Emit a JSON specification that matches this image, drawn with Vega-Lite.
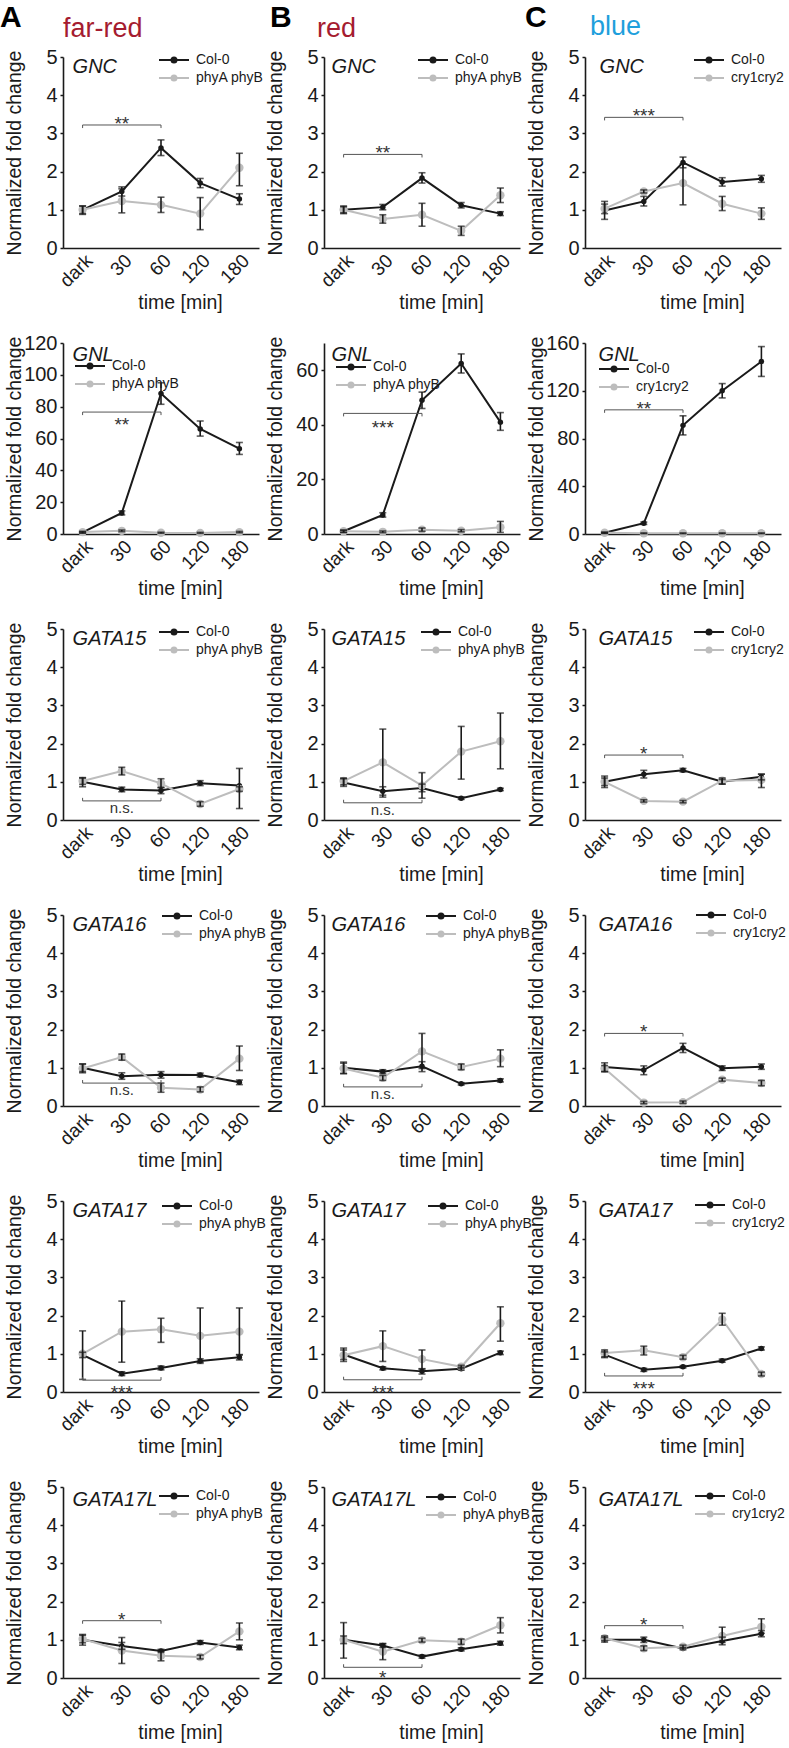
{
"$schema":"https://vega.github.io/schema/vega-lite/v6.json",
"padding":{"left":0,"top":3,"right":2,"bottom":2},
"background":"white",
"datasets":{"d":[
{"p":"A1","g":"Col-0","t":"dark","m":1.0,"lo":0.88,"hi":1.1},{"p":"A1","g":"Col-0","t":"30","m":1.48,"lo":1.36,"hi":1.6},{"p":"A1","g":"Col-0","t":"60","m":2.62,"lo":2.42,"hi":2.83},{"p":"A1","g":"Col-0","t":"120","m":1.7,"lo":1.58,"hi":1.82},{"p":"A1","g":"Col-0","t":"180","m":1.28,"lo":1.14,"hi":1.42},
{"p":"A1","g":"phyA phyB","t":"dark","m":1.0,"lo":0.9,"hi":1.1},{"p":"A1","g":"phyA phyB","t":"30","m":1.23,"lo":0.92,"hi":1.55},{"p":"A1","g":"phyA phyB","t":"60","m":1.13,"lo":0.93,"hi":1.33},{"p":"A1","g":"phyA phyB","t":"120","m":0.9,"lo":0.48,"hi":1.32},{"p":"A1","g":"phyA phyB","t":"180","m":2.1,"lo":1.63,"hi":2.48},
{"p":"B1","g":"Col-0","t":"dark","m":1.0,"lo":0.9,"hi":1.1},{"p":"B1","g":"Col-0","t":"30","m":1.07,"lo":1.0,"hi":1.14},{"p":"B1","g":"Col-0","t":"60","m":1.83,"lo":1.7,"hi":1.97},{"p":"B1","g":"Col-0","t":"120","m":1.12,"lo":1.05,"hi":1.19},{"p":"B1","g":"Col-0","t":"180","m":0.9,"lo":0.85,"hi":0.95},
{"p":"B1","g":"phyA phyB","t":"dark","m":1.0,"lo":0.92,"hi":1.08},{"p":"B1","g":"phyA phyB","t":"30","m":0.76,"lo":0.65,"hi":0.87},{"p":"B1","g":"phyA phyB","t":"60","m":0.87,"lo":0.57,"hi":1.17},{"p":"B1","g":"phyA phyB","t":"120","m":0.45,"lo":0.33,"hi":0.57},{"p":"B1","g":"phyA phyB","t":"180","m":1.38,"lo":1.19,"hi":1.57},
{"p":"C1","g":"Col-0","t":"dark","m":0.98,"lo":0.75,"hi":1.22},{"p":"C1","g":"Col-0","t":"30","m":1.22,"lo":1.1,"hi":1.35},{"p":"C1","g":"Col-0","t":"60","m":2.24,"lo":2.1,"hi":2.38},{"p":"C1","g":"Col-0","t":"120","m":1.73,"lo":1.62,"hi":1.84},{"p":"C1","g":"Col-0","t":"180","m":1.81,"lo":1.72,"hi":1.9},
{"p":"C1","g":"cry1cry2","t":"dark","m":1.03,"lo":0.9,"hi":1.15},{"p":"C1","g":"cry1cry2","t":"30","m":1.48,"lo":1.44,"hi":1.52},{"p":"C1","g":"cry1cry2","t":"60","m":1.7,"lo":1.13,"hi":2.2},{"p":"C1","g":"cry1cry2","t":"120","m":1.16,"lo":0.98,"hi":1.35},{"p":"C1","g":"cry1cry2","t":"180","m":0.9,"lo":0.75,"hi":1.05},
{"p":"A2","g":"Col-0","t":"dark","m":1,"lo":0.5,"hi":1.5},{"p":"A2","g":"Col-0","t":"30","m":13.2,"lo":12,"hi":14.5},{"p":"A2","g":"Col-0","t":"60","m":88.3,"lo":81.5,"hi":95},{"p":"A2","g":"Col-0","t":"120","m":66,"lo":61.5,"hi":71},{"p":"A2","g":"Col-0","t":"180","m":53.6,"lo":50,"hi":57.5},
{"p":"A2","g":"phyA phyB","t":"dark","m":1.2,"lo":0.8,"hi":1.6},{"p":"A2","g":"phyA phyB","t":"30","m":2,"lo":1.5,"hi":2.5},{"p":"A2","g":"phyA phyB","t":"60","m":0.8,"lo":0.5,"hi":1.1},{"p":"A2","g":"phyA phyB","t":"120","m":0.7,"lo":0.4,"hi":1},{"p":"A2","g":"phyA phyB","t":"180","m":1.2,"lo":0.8,"hi":1.6},
{"p":"B2","g":"Col-0","t":"dark","m":1,"lo":0.6,"hi":1.4},{"p":"B2","g":"Col-0","t":"30","m":7,"lo":6.2,"hi":7.8},{"p":"B2","g":"Col-0","t":"60","m":49,"lo":46,"hi":52},{"p":"B2","g":"Col-0","t":"120","m":62.5,"lo":59,"hi":66},{"p":"B2","g":"Col-0","t":"180","m":41,"lo":38,"hi":44.5},
{"p":"B2","g":"phyA phyB","t":"dark","m":1,"lo":0.6,"hi":1.4},{"p":"B2","g":"phyA phyB","t":"30","m":0.8,"lo":0.5,"hi":1.1},{"p":"B2","g":"phyA phyB","t":"60","m":1.6,"lo":1,"hi":2.2},{"p":"B2","g":"phyA phyB","t":"120","m":1.2,"lo":0.8,"hi":1.6},{"p":"B2","g":"phyA phyB","t":"180","m":2.5,"lo":0.6,"hi":4.6},
{"p":"C2","g":"Col-0","t":"dark","m":1,"lo":0.5,"hi":1.5},{"p":"C2","g":"Col-0","t":"30","m":9,"lo":8,"hi":10},{"p":"C2","g":"Col-0","t":"60","m":91,"lo":83,"hi":99},{"p":"C2","g":"Col-0","t":"120","m":120,"lo":114,"hi":126},{"p":"C2","g":"Col-0","t":"180","m":144.5,"lo":132,"hi":157},
{"p":"C2","g":"cry1cry2","t":"dark","m":1,"lo":0.6,"hi":1.4},{"p":"C2","g":"cry1cry2","t":"30","m":0.6,"lo":0.3,"hi":0.9},{"p":"C2","g":"cry1cry2","t":"60","m":0.6,"lo":0.3,"hi":0.9},{"p":"C2","g":"cry1cry2","t":"120","m":0.6,"lo":0.3,"hi":0.9},{"p":"C2","g":"cry1cry2","t":"180","m":0.6,"lo":0.3,"hi":0.9},
{"p":"A3","g":"Col-0","t":"dark","m":1.0,"lo":0.87,"hi":1.1},{"p":"A3","g":"Col-0","t":"30","m":0.8,"lo":0.74,"hi":0.86},{"p":"A3","g":"Col-0","t":"60","m":0.77,"lo":0.69,"hi":0.85},{"p":"A3","g":"Col-0","t":"120","m":0.96,"lo":0.9,"hi":1.03},{"p":"A3","g":"Col-0","t":"180","m":0.9,"lo":0.3,"hi":1.35},
{"p":"A3","g":"phyA phyB","t":"dark","m":1.02,"lo":0.93,"hi":1.11},{"p":"A3","g":"phyA phyB","t":"30","m":1.28,"lo":1.18,"hi":1.38},{"p":"A3","g":"phyA phyB","t":"60","m":0.96,"lo":0.85,"hi":1.08},{"p":"A3","g":"phyA phyB","t":"120","m":0.42,"lo":0.36,"hi":0.48},{"p":"A3","g":"phyA phyB","t":"180","m":0.81,"lo":0.75,"hi":0.87},
{"p":"B3","g":"Col-0","t":"dark","m":0.98,"lo":0.88,"hi":1.08},{"p":"B3","g":"Col-0","t":"30","m":0.75,"lo":0.6,"hi":0.87},{"p":"B3","g":"Col-0","t":"60","m":0.84,"lo":0.74,"hi":0.94},{"p":"B3","g":"Col-0","t":"120","m":0.57,"lo":0.54,"hi":0.6},{"p":"B3","g":"Col-0","t":"180","m":0.8,"lo":0.77,"hi":0.83},
{"p":"B3","g":"phyA phyB","t":"dark","m":1.02,"lo":0.92,"hi":1.1},{"p":"B3","g":"phyA phyB","t":"30","m":1.51,"lo":0.65,"hi":2.38},{"p":"B3","g":"phyA phyB","t":"60","m":0.9,"lo":0.57,"hi":1.24},{"p":"B3","g":"phyA phyB","t":"120","m":1.79,"lo":1.07,"hi":2.45},{"p":"B3","g":"phyA phyB","t":"180","m":2.06,"lo":1.34,"hi":2.8},
{"p":"C3","g":"Col-0","t":"dark","m":1.0,"lo":0.85,"hi":1.15},{"p":"C3","g":"Col-0","t":"30","m":1.2,"lo":1.1,"hi":1.3},{"p":"C3","g":"Col-0","t":"60","m":1.3,"lo":1.26,"hi":1.35},{"p":"C3","g":"Col-0","t":"120","m":1.0,"lo":0.94,"hi":1.06},{"p":"C3","g":"Col-0","t":"180","m":1.13,"lo":1.05,"hi":1.2},
{"p":"C3","g":"cry1cry2","t":"dark","m":1.0,"lo":0.9,"hi":1.1},{"p":"C3","g":"cry1cry2","t":"30","m":0.5,"lo":0.47,"hi":0.53},{"p":"C3","g":"cry1cry2","t":"60","m":0.48,"lo":0.45,"hi":0.51},{"p":"C3","g":"cry1cry2","t":"120","m":1.03,"lo":0.94,"hi":1.1},{"p":"C3","g":"cry1cry2","t":"180","m":1.05,"lo":0.85,"hi":1.2},
{"p":"A4","g":"Col-0","t":"dark","m":1.0,"lo":0.9,"hi":1.1},{"p":"A4","g":"Col-0","t":"30","m":0.78,"lo":0.7,"hi":0.87},{"p":"A4","g":"Col-0","t":"60","m":0.82,"lo":0.73,"hi":0.9},{"p":"A4","g":"Col-0","t":"120","m":0.81,"lo":0.76,"hi":0.86},{"p":"A4","g":"Col-0","t":"180","m":0.62,"lo":0.56,"hi":0.68},
{"p":"A4","g":"phyA phyB","t":"dark","m":0.98,"lo":0.87,"hi":1.1},{"p":"A4","g":"phyA phyB","t":"30","m":1.28,"lo":1.2,"hi":1.36},{"p":"A4","g":"phyA phyB","t":"60","m":0.48,"lo":0.36,"hi":0.6},{"p":"A4","g":"phyA phyB","t":"120","m":0.43,"lo":0.37,"hi":0.5},{"p":"A4","g":"phyA phyB","t":"180","m":1.24,"lo":0.93,"hi":1.57},
{"p":"B4","g":"Col-0","t":"dark","m":1.0,"lo":0.85,"hi":1.15},{"p":"B4","g":"Col-0","t":"30","m":0.9,"lo":0.85,"hi":0.95},{"p":"B4","g":"Col-0","t":"60","m":1.04,"lo":0.9,"hi":1.16},{"p":"B4","g":"Col-0","t":"120","m":0.58,"lo":0.55,"hi":0.61},{"p":"B4","g":"Col-0","t":"180","m":0.67,"lo":0.63,"hi":0.71},
{"p":"B4","g":"phyA phyB","t":"dark","m":0.98,"lo":0.85,"hi":1.12},{"p":"B4","g":"phyA phyB","t":"30","m":0.74,"lo":0.67,"hi":0.8},{"p":"B4","g":"phyA phyB","t":"60","m":1.43,"lo":0.98,"hi":1.9},{"p":"B4","g":"phyA phyB","t":"120","m":1.02,"lo":0.95,"hi":1.1},{"p":"B4","g":"phyA phyB","t":"180","m":1.24,"lo":1.03,"hi":1.47},
{"p":"C4","g":"Col-0","t":"dark","m":1.02,"lo":0.9,"hi":1.13},{"p":"C4","g":"Col-0","t":"30","m":0.94,"lo":0.82,"hi":1.05},{"p":"C4","g":"Col-0","t":"60","m":1.52,"lo":1.4,"hi":1.64},{"p":"C4","g":"Col-0","t":"120","m":0.99,"lo":0.93,"hi":1.05},{"p":"C4","g":"Col-0","t":"180","m":1.03,"lo":0.96,"hi":1.1},
{"p":"C4","g":"cry1cry2","t":"dark","m":0.98,"lo":0.9,"hi":1.06},{"p":"C4","g":"cry1cry2","t":"30","m":0.09,"lo":0.06,"hi":0.12},{"p":"C4","g":"cry1cry2","t":"60","m":0.1,"lo":0.07,"hi":0.13},{"p":"C4","g":"cry1cry2","t":"120","m":0.69,"lo":0.65,"hi":0.73},{"p":"C4","g":"cry1cry2","t":"180","m":0.6,"lo":0.53,"hi":0.67},
{"p":"A5","g":"Col-0","t":"dark","m":0.97,"lo":0.9,"hi":1.04},{"p":"A5","g":"Col-0","t":"30","m":0.48,"lo":0.43,"hi":0.53},{"p":"A5","g":"Col-0","t":"60","m":0.63,"lo":0.58,"hi":0.68},{"p":"A5","g":"Col-0","t":"120","m":0.81,"lo":0.75,"hi":0.87},{"p":"A5","g":"Col-0","t":"180","m":0.91,"lo":0.84,"hi":0.98},
{"p":"A5","g":"phyA phyB","t":"dark","m":1.0,"lo":0.33,"hi":1.6},{"p":"A5","g":"phyA phyB","t":"30","m":1.58,"lo":0.78,"hi":2.38},{"p":"A5","g":"phyA phyB","t":"60","m":1.64,"lo":1.3,"hi":1.93},{"p":"A5","g":"phyA phyB","t":"120","m":1.47,"lo":0.78,"hi":2.2},{"p":"A5","g":"phyA phyB","t":"180","m":1.58,"lo":0.97,"hi":2.2},
{"p":"B5","g":"Col-0","t":"dark","m":0.98,"lo":0.85,"hi":1.1},{"p":"B5","g":"Col-0","t":"30","m":0.62,"lo":0.58,"hi":0.66},{"p":"B5","g":"Col-0","t":"60","m":0.54,"lo":0.47,"hi":0.61},{"p":"B5","g":"Col-0","t":"120","m":0.61,"lo":0.57,"hi":0.65},{"p":"B5","g":"Col-0","t":"180","m":1.03,"lo":0.98,"hi":1.07},
{"p":"B5","g":"phyA phyB","t":"dark","m":0.96,"lo":0.8,"hi":1.15},{"p":"B5","g":"phyA phyB","t":"30","m":1.2,"lo":0.8,"hi":1.6},{"p":"B5","g":"phyA phyB","t":"60","m":0.86,"lo":0.6,"hi":1.1},{"p":"B5","g":"phyA phyB","t":"120","m":0.66,"lo":0.62,"hi":0.7},{"p":"B5","g":"phyA phyB","t":"180","m":1.8,"lo":1.33,"hi":2.23},
{"p":"C5","g":"Col-0","t":"dark","m":0.98,"lo":0.9,"hi":1.05},{"p":"C5","g":"Col-0","t":"30","m":0.58,"lo":0.54,"hi":0.62},{"p":"C5","g":"Col-0","t":"60","m":0.66,"lo":0.63,"hi":0.69},{"p":"C5","g":"Col-0","t":"120","m":0.82,"lo":0.78,"hi":0.86},{"p":"C5","g":"Col-0","t":"180","m":1.14,"lo":1.1,"hi":1.18},
{"p":"C5","g":"cry1cry2","t":"dark","m":1.02,"lo":0.92,"hi":1.1},{"p":"C5","g":"cry1cry2","t":"30","m":1.09,"lo":0.97,"hi":1.2},{"p":"C5","g":"cry1cry2","t":"60","m":0.91,"lo":0.86,"hi":0.96},{"p":"C5","g":"cry1cry2","t":"120","m":1.9,"lo":1.75,"hi":2.06},{"p":"C5","g":"cry1cry2","t":"180","m":0.47,"lo":0.42,"hi":0.52},
{"p":"A6","g":"Col-0","t":"dark","m":1.0,"lo":0.86,"hi":1.14},{"p":"A6","g":"Col-0","t":"30","m":0.84,"lo":0.75,"hi":0.93},{"p":"A6","g":"Col-0","t":"60","m":0.71,"lo":0.67,"hi":0.75},{"p":"A6","g":"Col-0","t":"120","m":0.93,"lo":0.88,"hi":0.98},{"p":"A6","g":"Col-0","t":"180","m":0.8,"lo":0.74,"hi":0.86},
{"p":"A6","g":"phyA phyB","t":"dark","m":1.02,"lo":0.92,"hi":1.12},{"p":"A6","g":"phyA phyB","t":"30","m":0.72,"lo":0.38,"hi":1.06},{"p":"A6","g":"phyA phyB","t":"60","m":0.58,"lo":0.45,"hi":0.7},{"p":"A6","g":"phyA phyB","t":"120","m":0.55,"lo":0.5,"hi":0.6},{"p":"A6","g":"phyA phyB","t":"180","m":1.22,"lo":1.0,"hi":1.44},
{"p":"B6","g":"Col-0","t":"dark","m":1.0,"lo":0.9,"hi":1.1},{"p":"B6","g":"Col-0","t":"30","m":0.85,"lo":0.8,"hi":0.9},{"p":"B6","g":"Col-0","t":"60","m":0.56,"lo":0.52,"hi":0.6},{"p":"B6","g":"Col-0","t":"120","m":0.75,"lo":0.71,"hi":0.79},{"p":"B6","g":"Col-0","t":"180","m":0.91,"lo":0.86,"hi":0.96},
{"p":"B6","g":"phyA phyB","t":"dark","m":1.0,"lo":0.52,"hi":1.45},{"p":"B6","g":"phyA phyB","t":"30","m":0.69,"lo":0.48,"hi":0.9},{"p":"B6","g":"phyA phyB","t":"60","m":0.99,"lo":0.94,"hi":1.04},{"p":"B6","g":"phyA phyB","t":"120","m":0.95,"lo":0.88,"hi":1.02},{"p":"B6","g":"phyA phyB","t":"180","m":1.38,"lo":1.18,"hi":1.58},
{"p":"C6","g":"Col-0","t":"dark","m":1.0,"lo":0.94,"hi":1.06},{"p":"C6","g":"Col-0","t":"30","m":1.0,"lo":0.93,"hi":1.07},{"p":"C6","g":"Col-0","t":"60","m":0.77,"lo":0.74,"hi":0.8},{"p":"C6","g":"Col-0","t":"120","m":0.97,"lo":0.87,"hi":1.07},{"p":"C6","g":"Col-0","t":"180","m":1.16,"lo":1.08,"hi":1.24},
{"p":"C6","g":"cry1cry2","t":"dark","m":1.04,"lo":0.98,"hi":1.1},{"p":"C6","g":"cry1cry2","t":"30","m":0.78,"lo":0.72,"hi":0.84},{"p":"C6","g":"cry1cry2","t":"60","m":0.82,"lo":0.78,"hi":0.86},{"p":"C6","g":"cry1cry2","t":"120","m":1.1,"lo":0.93,"hi":1.33},{"p":"C6","g":"cry1cry2","t":"180","m":1.34,"lo":1.17,"hi":1.55},
{"p":"A1","k":"br","t":"dark","v":3.14,"o":1},{"p":"A1","k":"br","t":"dark","v":3.22,"o":2},{"p":"A1","k":"br","t":"60","v":3.22,"o":3},{"p":"A1","k":"br","t":"60","v":3.14,"o":4},{"p":"A1","k":"bl","t":"30","v":3.22,"s":"**"},{"p":"A1","k":"gn","t":"dark","v":5,"s":"GNC"},{"p":"A1","k":"hd","t":"dark","v":5,"s":"A"},{"p":"A1","k":"hc","t":"dark","v":5,"s":"far-red"},
{"p":"B1","k":"br","t":"dark","v":2.37,"o":1},{"p":"B1","k":"br","t":"dark","v":2.45,"o":2},{"p":"B1","k":"br","t":"60","v":2.45,"o":3},{"p":"B1","k":"br","t":"60","v":2.37,"o":4},{"p":"B1","k":"bl","t":"30","v":2.45,"s":"**"},{"p":"B1","k":"gn","t":"dark","v":5,"s":"GNC"},{"p":"B1","k":"hd","t":"dark","v":5,"s":"B"},{"p":"B1","k":"hc","t":"dark","v":5,"s":"red"},
{"p":"C1","k":"br","t":"dark","v":3.34,"o":1},{"p":"C1","k":"br","t":"dark","v":3.42,"o":2},{"p":"C1","k":"br","t":"60","v":3.42,"o":3},{"p":"C1","k":"br","t":"60","v":3.34,"o":4},{"p":"C1","k":"bl","t":"30","v":3.42,"s":"***"},{"p":"C1","k":"gn","t":"dark","v":5,"s":"GNC"},{"p":"C1","k":"hd","t":"dark","v":5,"s":"C"},{"p":"C1","k":"hc","t":"dark","v":5,"s":"blue"},
{"p":"A2","k":"br","t":"dark","v":74.7,"o":1},{"p":"A2","k":"br","t":"dark","v":76.6,"o":2},{"p":"A2","k":"br","t":"60","v":76.6,"o":3},{"p":"A2","k":"br","t":"60","v":74.7,"o":4},{"p":"A2","k":"bl","t":"30","v":76.6,"s":"**"},{"p":"A2","k":"gn","t":"dark","v":120,"s":"GNL"},
{"p":"B2","k":"br","t":"dark","v":43.1,"o":1},{"p":"B2","k":"br","t":"dark","v":44.2,"o":2},{"p":"B2","k":"br","t":"60","v":44.2,"o":3},{"p":"B2","k":"br","t":"60","v":43.1,"o":4},{"p":"B2","k":"bl","t":"30","v":44.2,"s":"***"},{"p":"B2","k":"gn","t":"dark","v":70,"s":"GNL"},
{"p":"C2","k":"br","t":"dark","v":101.5,"o":1},{"p":"C2","k":"br","t":"dark","v":104,"o":2},{"p":"C2","k":"br","t":"60","v":104,"o":3},{"p":"C2","k":"br","t":"60","v":101.5,"o":4},{"p":"C2","k":"bl","t":"30","v":104,"s":"**"},{"p":"C2","k":"gn","t":"dark","v":160,"s":"GNL"},
{"p":"A3","k":"br","t":"dark","v":0.58,"o":1},{"p":"A3","k":"br","t":"dark","v":0.5,"o":2},{"p":"A3","k":"br","t":"60","v":0.5,"o":3},{"p":"A3","k":"br","t":"60","v":0.58,"o":4},{"p":"A3","k":"bl","t":"30","v":0.5,"s":"n.s."},{"p":"A3","k":"gn","t":"dark","v":5,"s":"GATA15"},
{"p":"B3","k":"br","t":"dark","v":0.53,"o":1},{"p":"B3","k":"br","t":"dark","v":0.45,"o":2},{"p":"B3","k":"br","t":"60","v":0.45,"o":3},{"p":"B3","k":"br","t":"60","v":0.53,"o":4},{"p":"B3","k":"bl","t":"30","v":0.45,"s":"n.s."},{"p":"B3","k":"gn","t":"dark","v":5,"s":"GATA15"},
{"p":"C3","k":"br","t":"dark","v":1.62,"o":1},{"p":"C3","k":"br","t":"dark","v":1.7,"o":2},{"p":"C3","k":"br","t":"60","v":1.7,"o":3},{"p":"C3","k":"br","t":"60","v":1.62,"o":4},{"p":"C3","k":"bl","t":"30","v":1.7,"s":"*"},{"p":"C3","k":"gn","t":"dark","v":5,"s":"GATA15"},
{"p":"A4","k":"br","t":"dark","v":0.68,"o":1},{"p":"A4","k":"br","t":"dark","v":0.6,"o":2},{"p":"A4","k":"br","t":"60","v":0.6,"o":3},{"p":"A4","k":"br","t":"60","v":0.68,"o":4},{"p":"A4","k":"bl","t":"30","v":0.6,"s":"n.s."},{"p":"A4","k":"gn","t":"dark","v":5,"s":"GATA16"},
{"p":"B4","k":"br","t":"dark","v":0.58,"o":1},{"p":"B4","k":"br","t":"dark","v":0.5,"o":2},{"p":"B4","k":"br","t":"60","v":0.5,"o":3},{"p":"B4","k":"br","t":"60","v":0.58,"o":4},{"p":"B4","k":"bl","t":"30","v":0.5,"s":"n.s."},{"p":"B4","k":"gn","t":"dark","v":5,"s":"GATA16"},
{"p":"C4","k":"br","t":"dark","v":1.82,"o":1},{"p":"C4","k":"br","t":"dark","v":1.9,"o":2},{"p":"C4","k":"br","t":"60","v":1.9,"o":3},{"p":"C4","k":"br","t":"60","v":1.82,"o":4},{"p":"C4","k":"bl","t":"30","v":1.9,"s":"*"},{"p":"C4","k":"gn","t":"dark","v":5,"s":"GATA16"},
{"p":"A5","k":"br","t":"dark","v":0.39,"o":1},{"p":"A5","k":"br","t":"dark","v":0.31,"o":2},{"p":"A5","k":"br","t":"60","v":0.31,"o":3},{"p":"A5","k":"br","t":"60","v":0.39,"o":4},{"p":"A5","k":"bl","t":"30","v":0.31,"s":"***"},{"p":"A5","k":"gn","t":"dark","v":5,"s":"GATA17"},
{"p":"B5","k":"br","t":"dark","v":0.4,"o":1},{"p":"B5","k":"br","t":"dark","v":0.32,"o":2},{"p":"B5","k":"br","t":"60","v":0.32,"o":3},{"p":"B5","k":"br","t":"60","v":0.4,"o":4},{"p":"B5","k":"bl","t":"30","v":0.32,"s":"***"},{"p":"B5","k":"gn","t":"dark","v":5,"s":"GATA17"},
{"p":"C5","k":"br","t":"dark","v":0.5,"o":1},{"p":"C5","k":"br","t":"dark","v":0.42,"o":2},{"p":"C5","k":"br","t":"60","v":0.42,"o":3},{"p":"C5","k":"br","t":"60","v":0.5,"o":4},{"p":"C5","k":"bl","t":"30","v":0.42,"s":"***"},{"p":"C5","k":"gn","t":"dark","v":5,"s":"GATA17"},
{"p":"A6","k":"br","t":"dark","v":1.42,"o":1},{"p":"A6","k":"br","t":"dark","v":1.5,"o":2},{"p":"A6","k":"br","t":"60","v":1.5,"o":3},{"p":"A6","k":"br","t":"60","v":1.42,"o":4},{"p":"A6","k":"bl","t":"30","v":1.5,"s":"*"},{"p":"A6","k":"gn","t":"dark","v":5,"s":"GATA17L"},
{"p":"B6","k":"br","t":"dark","v":0.36,"o":1},{"p":"B6","k":"br","t":"dark","v":0.28,"o":2},{"p":"B6","k":"br","t":"60","v":0.28,"o":3},{"p":"B6","k":"br","t":"60","v":0.36,"o":4},{"p":"B6","k":"bl","t":"30","v":0.28,"s":"*"},{"p":"B6","k":"gn","t":"dark","v":5,"s":"GATA17L"},
{"p":"C6","k":"br","t":"dark","v":1.29,"o":1},{"p":"C6","k":"br","t":"dark","v":1.37,"o":2},{"p":"C6","k":"br","t":"60","v":1.37,"o":3},{"p":"C6","k":"br","t":"60","v":1.29,"o":4},{"p":"C6","k":"bl","t":"30","v":1.37,"s":"*"},{"p":"C6","k":"gn","t":"dark","v":5,"s":"GATA17L"}
]},
"data":{"name":"d"},
"columns":3,
"spacing":{"row":95,"column":65},
"bounds":"flush",
"resolve":{"scale":{"color":"independent"},"legend":{"color":"independent"}},
"concat":[
{"width":196,"height":191,"transform":[{"filter":"datum.p==='A1'"}],
 "encoding":{"x":{"field":"t","type":"ordinal","scale":{"type":"point","padding":0.5,"domain":["dark","30","60","120","180"]},"axis":{"title":"time [min]"}},
  "y":{"field":"m","type":"quantitative","scale":{"domain":[0,5],"nice":false},"axis":{"title":"Normalized fold change","values":[0,1,2,3,4,5]}},
  "color":{"field":"g","type":"nominal","scale":{"domain":["Col-0","phyA phyB"],"range":["#1a1a1a","#bdbdbd"]},"legend":{"title":null,"orient":"none","legendX":104,"legendY":-4,"encode":{"labels":{"fontStyle":{"condition":{"test":"datum.value==='Col-0'","value":"normal"},"value":"italic"}}}}}},
 "layer":[
  {"transform":[{"filter":"!datum.k"}],"layer":[
   {"mark":"line"},
   {"mark":"point","encoding":{"size":{"condition":{"test":"datum.g==='Col-0'","value":30},"value":70}}},
   {"mark":{"type":"rule","strokeWidth":1.6},"encoding":{"y":{"field":"lo","type":"quantitative"},"y2":{"field":"hi"},"color":{"value":"#1a1a1a"}}},
   {"mark":{"type":"tick","size":7,"thickness":1.6},"encoding":{"y":{"field":"lo","type":"quantitative"},"color":{"value":"#1a1a1a"}}},
   {"mark":{"type":"tick","size":7,"thickness":1.6},"encoding":{"y":{"field":"hi","type":"quantitative"},"color":{"value":"#1a1a1a"}}}]},
  {"transform":[{"filter":"datum.k==='br'"}],"mark":{"type":"line","strokeWidth":1},"encoding":{"y":{"field":"v","type":"quantitative"},"order":{"field":"o"},"color":{"value":"#555555"}}},
  {"transform":[{"filter":"datum.k==='bl'"}],"mark":{"type":"text","fontSize":19,"baseline":"alphabetic","dy":5},"encoding":{"y":{"field":"v","type":"quantitative"},"text":{"field":"s"},"color":{"value":"#333333"}}},
  {"transform":[{"filter":"datum.k==='gn'"}],"mark":{"type":"text","fontSize":20,"fontStyle":"italic","align":"left","baseline":"top","dx":-10,"dy":0},"encoding":{"y":{"field":"v","type":"quantitative"},"text":{"field":"s"},"color":{"value":"#1a1a1a"}}},
  {"transform":[{"filter":"datum.k==='hd'"}],"mark":{"type":"text","fontSize":30,"fontWeight":"bold","align":"left","baseline":"alphabetic","dx":-82.6,"dy":-30},"encoding":{"y":{"field":"v","type":"quantitative"},"text":{"field":"s"},"color":{"value":"#000000"}}},
  {"transform":[{"filter":"datum.k==='hc'"}],"mark":{"type":"text","fontSize":27,"align":"left","baseline":"alphabetic","dx":-19.6,"dy":-20},"encoding":{"y":{"field":"v","type":"quantitative"},"text":{"field":"s"},"color":{"value":"#a51c30"}}}
 ]},
{"width":196,"height":191,"transform":[{"filter":"datum.p==='B1'"}],
 "encoding":{"x":{"field":"t","type":"ordinal","scale":{"type":"point","padding":0.5,"domain":["dark","30","60","120","180"]},"axis":{"title":"time [min]"}},
  "y":{"field":"m","type":"quantitative","scale":{"domain":[0,5],"nice":false},"axis":{"title":"Normalized fold change","values":[0,1,2,3,4,5]}},
  "color":{"field":"g","type":"nominal","scale":{"domain":["Col-0","phyA phyB"],"range":["#1a1a1a","#bdbdbd"]},"legend":{"title":null,"orient":"none","legendX":102,"legendY":-4,"encode":{"labels":{"fontStyle":{"condition":{"test":"datum.value==='Col-0'","value":"normal"},"value":"italic"}}}}}},
 "layer":[
  {"transform":[{"filter":"!datum.k"}],"layer":[
   {"mark":"line"},
   {"mark":"point","encoding":{"size":{"condition":{"test":"datum.g==='Col-0'","value":30},"value":70}}},
   {"mark":{"type":"rule","strokeWidth":1.6},"encoding":{"y":{"field":"lo","type":"quantitative"},"y2":{"field":"hi"},"color":{"value":"#1a1a1a"}}},
   {"mark":{"type":"tick","size":7,"thickness":1.6},"encoding":{"y":{"field":"lo","type":"quantitative"},"color":{"value":"#1a1a1a"}}},
   {"mark":{"type":"tick","size":7,"thickness":1.6},"encoding":{"y":{"field":"hi","type":"quantitative"},"color":{"value":"#1a1a1a"}}}]},
  {"transform":[{"filter":"datum.k==='br'"}],"mark":{"type":"line","strokeWidth":1},"encoding":{"y":{"field":"v","type":"quantitative"},"order":{"field":"o"},"color":{"value":"#555555"}}},
  {"transform":[{"filter":"datum.k==='bl'"}],"mark":{"type":"text","fontSize":19,"baseline":"alphabetic","dy":5},"encoding":{"y":{"field":"v","type":"quantitative"},"text":{"field":"s"},"color":{"value":"#333333"}}},
  {"transform":[{"filter":"datum.k==='gn'"}],"mark":{"type":"text","fontSize":20,"fontStyle":"italic","align":"left","baseline":"top","dx":-12,"dy":0},"encoding":{"y":{"field":"v","type":"quantitative"},"text":{"field":"s"},"color":{"value":"#1a1a1a"}}},
  {"transform":[{"filter":"datum.k==='hd'"}],"mark":{"type":"text","fontSize":30,"fontWeight":"bold","align":"left","baseline":"alphabetic","dx":-73.6,"dy":-30},"encoding":{"y":{"field":"v","type":"quantitative"},"text":{"field":"s"},"color":{"value":"#000000"}}},
  {"transform":[{"filter":"datum.k==='hc'"}],"mark":{"type":"text","fontSize":27,"align":"left","baseline":"alphabetic","dx":-26.6,"dy":-20},"encoding":{"y":{"field":"v","type":"quantitative"},"text":{"field":"s"},"color":{"value":"#a51c30"}}}
 ]},
{"width":196,"height":191,"transform":[{"filter":"datum.p==='C1'"}],
 "encoding":{"x":{"field":"t","type":"ordinal","scale":{"type":"point","padding":0.5,"domain":["dark","30","60","120","180"]},"axis":{"title":"time [min]"}},
  "y":{"field":"m","type":"quantitative","scale":{"domain":[0,5],"nice":false},"axis":{"title":"Normalized fold change","values":[0,1,2,3,4,5]}},
  "color":{"field":"g","type":"nominal","scale":{"domain":["Col-0","cry1cry2"],"range":["#1a1a1a","#bdbdbd"]},"legend":{"title":null,"orient":"none","legendX":117,"legendY":-4,"encode":{"labels":{"fontStyle":{"condition":{"test":"datum.value==='Col-0'","value":"normal"},"value":"italic"}}}}}},
 "layer":[
  {"transform":[{"filter":"!datum.k"}],"layer":[
   {"mark":"line"},
   {"mark":"point","encoding":{"size":{"condition":{"test":"datum.g==='Col-0'","value":30},"value":70}}},
   {"mark":{"type":"rule","strokeWidth":1.6},"encoding":{"y":{"field":"lo","type":"quantitative"},"y2":{"field":"hi"},"color":{"value":"#1a1a1a"}}},
   {"mark":{"type":"tick","size":7,"thickness":1.6},"encoding":{"y":{"field":"lo","type":"quantitative"},"color":{"value":"#1a1a1a"}}},
   {"mark":{"type":"tick","size":7,"thickness":1.6},"encoding":{"y":{"field":"hi","type":"quantitative"},"color":{"value":"#1a1a1a"}}}]},
  {"transform":[{"filter":"datum.k==='br'"}],"mark":{"type":"line","strokeWidth":1},"encoding":{"y":{"field":"v","type":"quantitative"},"order":{"field":"o"},"color":{"value":"#555555"}}},
  {"transform":[{"filter":"datum.k==='bl'"}],"mark":{"type":"text","fontSize":19,"baseline":"alphabetic","dy":5},"encoding":{"y":{"field":"v","type":"quantitative"},"text":{"field":"s"},"color":{"value":"#333333"}}},
  {"transform":[{"filter":"datum.k==='gn'"}],"mark":{"type":"text","fontSize":20,"fontStyle":"italic","align":"left","baseline":"top","dx":-5,"dy":0},"encoding":{"y":{"field":"v","type":"quantitative"},"text":{"field":"s"},"color":{"value":"#1a1a1a"}}},
  {"transform":[{"filter":"datum.k==='hd'"}],"mark":{"type":"text","fontSize":30,"fontWeight":"bold","align":"left","baseline":"alphabetic","dx":-79.6,"dy":-30},"encoding":{"y":{"field":"v","type":"quantitative"},"text":{"field":"s"},"color":{"value":"#000000"}}},
  {"transform":[{"filter":"datum.k==='hc'"}],"mark":{"type":"text","fontSize":27,"align":"left","baseline":"alphabetic","dx":-14.6,"dy":-22},"encoding":{"y":{"field":"v","type":"quantitative"},"text":{"field":"s"},"color":{"value":"#1f9fdc"}}}
 ]},
{"width":196,"height":191,"transform":[{"filter":"datum.p==='A2'"}],
 "encoding":{"x":{"field":"t","type":"ordinal","scale":{"type":"point","padding":0.5,"domain":["dark","30","60","120","180"]},"axis":{"title":"time [min]"}},
  "y":{"field":"m","type":"quantitative","scale":{"domain":[0,120],"nice":false},"axis":{"title":"Normalized fold change","values":[0,20,40,60,80,100,120]}},
  "color":{"field":"g","type":"nominal","scale":{"domain":["Col-0","phyA phyB"],"range":["#1a1a1a","#bdbdbd"]},"legend":{"title":null,"orient":"none","legendX":20,"legendY":16,"encode":{"labels":{"fontStyle":{"condition":{"test":"datum.value==='Col-0'","value":"normal"},"value":"italic"}}}}}},
 "layer":[
  {"transform":[{"filter":"!datum.k"}],"layer":[
   {"mark":"line"},
   {"mark":"point","encoding":{"size":{"condition":{"test":"datum.g==='Col-0'","value":30},"value":70}}},
   {"mark":{"type":"rule","strokeWidth":1.6},"encoding":{"y":{"field":"lo","type":"quantitative"},"y2":{"field":"hi"},"color":{"value":"#1a1a1a"}}},
   {"mark":{"type":"tick","size":7,"thickness":1.6},"encoding":{"y":{"field":"lo","type":"quantitative"},"color":{"value":"#1a1a1a"}}},
   {"mark":{"type":"tick","size":7,"thickness":1.6},"encoding":{"y":{"field":"hi","type":"quantitative"},"color":{"value":"#1a1a1a"}}}]},
  {"transform":[{"filter":"datum.k==='br'"}],"mark":{"type":"line","strokeWidth":1},"encoding":{"y":{"field":"v","type":"quantitative"},"order":{"field":"o"},"color":{"value":"#555555"}}},
  {"transform":[{"filter":"datum.k==='bl'"}],"mark":{"type":"text","fontSize":19,"baseline":"alphabetic","dy":19},"encoding":{"y":{"field":"v","type":"quantitative"},"text":{"field":"s"},"color":{"value":"#333333"}}},
  {"transform":[{"filter":"datum.k==='gn'"}],"mark":{"type":"text","fontSize":20,"fontStyle":"italic","align":"left","baseline":"top","dx":-10,"dy":2},"encoding":{"y":{"field":"v","type":"quantitative"},"text":{"field":"s"},"color":{"value":"#1a1a1a"}}}
 ]},
{"width":196,"height":191,"transform":[{"filter":"datum.p==='B2'"}],
 "encoding":{"x":{"field":"t","type":"ordinal","scale":{"type":"point","padding":0.5,"domain":["dark","30","60","120","180"]},"axis":{"title":"time [min]"}},
  "y":{"field":"m","type":"quantitative","scale":{"domain":[0,70],"nice":false},"axis":{"title":"Normalized fold change","values":[0,20,40,60]}},
  "color":{"field":"g","type":"nominal","scale":{"domain":["Col-0","phyA phyB"],"range":["#1a1a1a","#bdbdbd"]},"legend":{"title":null,"orient":"none","legendX":20,"legendY":17,"encode":{"labels":{"fontStyle":{"condition":{"test":"datum.value==='Col-0'","value":"normal"},"value":"italic"}}}}}},
 "layer":[
  {"transform":[{"filter":"!datum.k"}],"layer":[
   {"mark":"line"},
   {"mark":"point","encoding":{"size":{"condition":{"test":"datum.g==='Col-0'","value":30},"value":70}}},
   {"mark":{"type":"rule","strokeWidth":1.6},"encoding":{"y":{"field":"lo","type":"quantitative"},"y2":{"field":"hi"},"color":{"value":"#1a1a1a"}}},
   {"mark":{"type":"tick","size":7,"thickness":1.6},"encoding":{"y":{"field":"lo","type":"quantitative"},"color":{"value":"#1a1a1a"}}},
   {"mark":{"type":"tick","size":7,"thickness":1.6},"encoding":{"y":{"field":"hi","type":"quantitative"},"color":{"value":"#1a1a1a"}}}]},
  {"transform":[{"filter":"datum.k==='br'"}],"mark":{"type":"line","strokeWidth":1},"encoding":{"y":{"field":"v","type":"quantitative"},"order":{"field":"o"},"color":{"value":"#555555"}}},
  {"transform":[{"filter":"datum.k==='bl'"}],"mark":{"type":"text","fontSize":19,"baseline":"alphabetic","dy":21},"encoding":{"y":{"field":"v","type":"quantitative"},"text":{"field":"s"},"color":{"value":"#333333"}}},
  {"transform":[{"filter":"datum.k==='gn'"}],"mark":{"type":"text","fontSize":20,"fontStyle":"italic","align":"left","baseline":"top","dx":-12,"dy":2},"encoding":{"y":{"field":"v","type":"quantitative"},"text":{"field":"s"},"color":{"value":"#1a1a1a"}}}
 ]},
{"width":196,"height":191,"transform":[{"filter":"datum.p==='C2'"}],
 "encoding":{"x":{"field":"t","type":"ordinal","scale":{"type":"point","padding":0.5,"domain":["dark","30","60","120","180"]},"axis":{"title":"time [min]"}},
  "y":{"field":"m","type":"quantitative","scale":{"domain":[0,160],"nice":false},"axis":{"title":"Normalized fold change","values":[0,40,80,120,160]}},
  "color":{"field":"g","type":"nominal","scale":{"domain":["Col-0","cry1cry2"],"range":["#1a1a1a","#bdbdbd"]},"legend":{"title":null,"orient":"none","legendX":22,"legendY":19,"encode":{"labels":{"fontStyle":{"condition":{"test":"datum.value==='Col-0'","value":"normal"},"value":"italic"}}}}}},
 "layer":[
  {"transform":[{"filter":"!datum.k"}],"layer":[
   {"mark":"line"},
   {"mark":"point","encoding":{"size":{"condition":{"test":"datum.g==='Col-0'","value":30},"value":70}}},
   {"mark":{"type":"rule","strokeWidth":1.6},"encoding":{"y":{"field":"lo","type":"quantitative"},"y2":{"field":"hi"},"color":{"value":"#1a1a1a"}}},
   {"mark":{"type":"tick","size":7,"thickness":1.6},"encoding":{"y":{"field":"lo","type":"quantitative"},"color":{"value":"#1a1a1a"}}},
   {"mark":{"type":"tick","size":7,"thickness":1.6},"encoding":{"y":{"field":"hi","type":"quantitative"},"color":{"value":"#1a1a1a"}}}]},
  {"transform":[{"filter":"datum.k==='br'"}],"mark":{"type":"line","strokeWidth":1},"encoding":{"y":{"field":"v","type":"quantitative"},"order":{"field":"o"},"color":{"value":"#555555"}}},
  {"transform":[{"filter":"datum.k==='bl'"}],"mark":{"type":"text","fontSize":19,"baseline":"alphabetic","dy":5},"encoding":{"y":{"field":"v","type":"quantitative"},"text":{"field":"s"},"color":{"value":"#333333"}}},
  {"transform":[{"filter":"datum.k==='gn'"}],"mark":{"type":"text","fontSize":20,"fontStyle":"italic","align":"left","baseline":"top","dx":-6,"dy":2},"encoding":{"y":{"field":"v","type":"quantitative"},"text":{"field":"s"},"color":{"value":"#1a1a1a"}}}
 ]},
{"width":196,"height":191,"transform":[{"filter":"datum.p==='A3'"}],
 "encoding":{"x":{"field":"t","type":"ordinal","scale":{"type":"point","padding":0.5,"domain":["dark","30","60","120","180"]},"axis":{"title":"time [min]"}},
  "y":{"field":"m","type":"quantitative","scale":{"domain":[0,5],"nice":false},"axis":{"title":"Normalized fold change","values":[0,1,2,3,4,5]}},
  "color":{"field":"g","type":"nominal","scale":{"domain":["Col-0","phyA phyB"],"range":["#1a1a1a","#bdbdbd"]},"legend":{"title":null,"orient":"none","legendX":104,"legendY":-4,"encode":{"labels":{"fontStyle":{"condition":{"test":"datum.value==='Col-0'","value":"normal"},"value":"italic"}}}}}},
 "layer":[
  {"transform":[{"filter":"!datum.k"}],"layer":[
   {"mark":"line"},
   {"mark":"point","encoding":{"size":{"condition":{"test":"datum.g==='Col-0'","value":30},"value":70}}},
   {"mark":{"type":"rule","strokeWidth":1.6},"encoding":{"y":{"field":"lo","type":"quantitative"},"y2":{"field":"hi"},"color":{"value":"#1a1a1a"}}},
   {"mark":{"type":"tick","size":7,"thickness":1.6},"encoding":{"y":{"field":"lo","type":"quantitative"},"color":{"value":"#1a1a1a"}}},
   {"mark":{"type":"tick","size":7,"thickness":1.6},"encoding":{"y":{"field":"hi","type":"quantitative"},"color":{"value":"#1a1a1a"}}}]},
  {"transform":[{"filter":"datum.k==='br'"}],"mark":{"type":"line","strokeWidth":1},"encoding":{"y":{"field":"v","type":"quantitative"},"order":{"field":"o"},"color":{"value":"#555555"}}},
  {"transform":[{"filter":"datum.k==='bl'"}],"mark":{"type":"text","fontSize":15,"baseline":"alphabetic","dy":12},"encoding":{"y":{"field":"v","type":"quantitative"},"text":{"field":"s"},"color":{"value":"#333333"}}},
  {"transform":[{"filter":"datum.k==='gn'"}],"mark":{"type":"text","fontSize":20,"fontStyle":"italic","align":"left","baseline":"top","dx":-10,"dy":0},"encoding":{"y":{"field":"v","type":"quantitative"},"text":{"field":"s"},"color":{"value":"#1a1a1a"}}}
 ]},
{"width":196,"height":191,"transform":[{"filter":"datum.p==='B3'"}],
 "encoding":{"x":{"field":"t","type":"ordinal","scale":{"type":"point","padding":0.5,"domain":["dark","30","60","120","180"]},"axis":{"title":"time [min]"}},
  "y":{"field":"m","type":"quantitative","scale":{"domain":[0,5],"nice":false},"axis":{"title":"Normalized fold change","values":[0,1,2,3,4,5]}},
  "color":{"field":"g","type":"nominal","scale":{"domain":["Col-0","phyA phyB"],"range":["#1a1a1a","#bdbdbd"]},"legend":{"title":null,"orient":"none","legendX":105,"legendY":-4,"encode":{"labels":{"fontStyle":{"condition":{"test":"datum.value==='Col-0'","value":"normal"},"value":"italic"}}}}}},
 "layer":[
  {"transform":[{"filter":"!datum.k"}],"layer":[
   {"mark":"line"},
   {"mark":"point","encoding":{"size":{"condition":{"test":"datum.g==='Col-0'","value":30},"value":70}}},
   {"mark":{"type":"rule","strokeWidth":1.6},"encoding":{"y":{"field":"lo","type":"quantitative"},"y2":{"field":"hi"},"color":{"value":"#1a1a1a"}}},
   {"mark":{"type":"tick","size":7,"thickness":1.6},"encoding":{"y":{"field":"lo","type":"quantitative"},"color":{"value":"#1a1a1a"}}},
   {"mark":{"type":"tick","size":7,"thickness":1.6},"encoding":{"y":{"field":"hi","type":"quantitative"},"color":{"value":"#1a1a1a"}}}]},
  {"transform":[{"filter":"datum.k==='br'"}],"mark":{"type":"line","strokeWidth":1},"encoding":{"y":{"field":"v","type":"quantitative"},"order":{"field":"o"},"color":{"value":"#555555"}}},
  {"transform":[{"filter":"datum.k==='bl'"}],"mark":{"type":"text","fontSize":15,"baseline":"alphabetic","dy":12},"encoding":{"y":{"field":"v","type":"quantitative"},"text":{"field":"s"},"color":{"value":"#333333"}}},
  {"transform":[{"filter":"datum.k==='gn'"}],"mark":{"type":"text","fontSize":20,"fontStyle":"italic","align":"left","baseline":"top","dx":-12,"dy":0},"encoding":{"y":{"field":"v","type":"quantitative"},"text":{"field":"s"},"color":{"value":"#1a1a1a"}}}
 ]},
{"width":196,"height":191,"transform":[{"filter":"datum.p==='C3'"}],
 "encoding":{"x":{"field":"t","type":"ordinal","scale":{"type":"point","padding":0.5,"domain":["dark","30","60","120","180"]},"axis":{"title":"time [min]"}},
  "y":{"field":"m","type":"quantitative","scale":{"domain":[0,5],"nice":false},"axis":{"title":"Normalized fold change","values":[0,1,2,3,4,5]}},
  "color":{"field":"g","type":"nominal","scale":{"domain":["Col-0","cry1cry2"],"range":["#1a1a1a","#bdbdbd"]},"legend":{"title":null,"orient":"none","legendX":117,"legendY":-4,"encode":{"labels":{"fontStyle":{"condition":{"test":"datum.value==='Col-0'","value":"normal"},"value":"italic"}}}}}},
 "layer":[
  {"transform":[{"filter":"!datum.k"}],"layer":[
   {"mark":"line"},
   {"mark":"point","encoding":{"size":{"condition":{"test":"datum.g==='Col-0'","value":30},"value":70}}},
   {"mark":{"type":"rule","strokeWidth":1.6},"encoding":{"y":{"field":"lo","type":"quantitative"},"y2":{"field":"hi"},"color":{"value":"#1a1a1a"}}},
   {"mark":{"type":"tick","size":7,"thickness":1.6},"encoding":{"y":{"field":"lo","type":"quantitative"},"color":{"value":"#1a1a1a"}}},
   {"mark":{"type":"tick","size":7,"thickness":1.6},"encoding":{"y":{"field":"hi","type":"quantitative"},"color":{"value":"#1a1a1a"}}}]},
  {"transform":[{"filter":"datum.k==='br'"}],"mark":{"type":"line","strokeWidth":1},"encoding":{"y":{"field":"v","type":"quantitative"},"order":{"field":"o"},"color":{"value":"#555555"}}},
  {"transform":[{"filter":"datum.k==='bl'"}],"mark":{"type":"text","fontSize":19,"baseline":"alphabetic","dy":5},"encoding":{"y":{"field":"v","type":"quantitative"},"text":{"field":"s"},"color":{"value":"#333333"}}},
  {"transform":[{"filter":"datum.k==='gn'"}],"mark":{"type":"text","fontSize":20,"fontStyle":"italic","align":"left","baseline":"top","dx":-6,"dy":0},"encoding":{"y":{"field":"v","type":"quantitative"},"text":{"field":"s"},"color":{"value":"#1a1a1a"}}}
 ]},
{"width":196,"height":191,"transform":[{"filter":"datum.p==='A4'"}],
 "encoding":{"x":{"field":"t","type":"ordinal","scale":{"type":"point","padding":0.5,"domain":["dark","30","60","120","180"]},"axis":{"title":"time [min]"}},
  "y":{"field":"m","type":"quantitative","scale":{"domain":[0,5],"nice":false},"axis":{"title":"Normalized fold change","values":[0,1,2,3,4,5]}},
  "color":{"field":"g","type":"nominal","scale":{"domain":["Col-0","phyA phyB"],"range":["#1a1a1a","#bdbdbd"]},"legend":{"title":null,"orient":"none","legendX":107,"legendY":-6,"encode":{"labels":{"fontStyle":{"condition":{"test":"datum.value==='Col-0'","value":"normal"},"value":"italic"}}}}}},
 "layer":[
  {"transform":[{"filter":"!datum.k"}],"layer":[
   {"mark":"line"},
   {"mark":"point","encoding":{"size":{"condition":{"test":"datum.g==='Col-0'","value":30},"value":70}}},
   {"mark":{"type":"rule","strokeWidth":1.6},"encoding":{"y":{"field":"lo","type":"quantitative"},"y2":{"field":"hi"},"color":{"value":"#1a1a1a"}}},
   {"mark":{"type":"tick","size":7,"thickness":1.6},"encoding":{"y":{"field":"lo","type":"quantitative"},"color":{"value":"#1a1a1a"}}},
   {"mark":{"type":"tick","size":7,"thickness":1.6},"encoding":{"y":{"field":"hi","type":"quantitative"},"color":{"value":"#1a1a1a"}}}]},
  {"transform":[{"filter":"datum.k==='br'"}],"mark":{"type":"line","strokeWidth":1},"encoding":{"y":{"field":"v","type":"quantitative"},"order":{"field":"o"},"color":{"value":"#555555"}}},
  {"transform":[{"filter":"datum.k==='bl'"}],"mark":{"type":"text","fontSize":15,"baseline":"alphabetic","dy":12},"encoding":{"y":{"field":"v","type":"quantitative"},"text":{"field":"s"},"color":{"value":"#333333"}}},
  {"transform":[{"filter":"datum.k==='gn'"}],"mark":{"type":"text","fontSize":20,"fontStyle":"italic","align":"left","baseline":"top","dx":-10,"dy":0},"encoding":{"y":{"field":"v","type":"quantitative"},"text":{"field":"s"},"color":{"value":"#1a1a1a"}}}
 ]},
{"width":196,"height":191,"transform":[{"filter":"datum.p==='B4'"}],
 "encoding":{"x":{"field":"t","type":"ordinal","scale":{"type":"point","padding":0.5,"domain":["dark","30","60","120","180"]},"axis":{"title":"time [min]"}},
  "y":{"field":"m","type":"quantitative","scale":{"domain":[0,5],"nice":false},"axis":{"title":"Normalized fold change","values":[0,1,2,3,4,5]}},
  "color":{"field":"g","type":"nominal","scale":{"domain":["Col-0","phyA phyB"],"range":["#1a1a1a","#bdbdbd"]},"legend":{"title":null,"orient":"none","legendX":110,"legendY":-6,"encode":{"labels":{"fontStyle":{"condition":{"test":"datum.value==='Col-0'","value":"normal"},"value":"italic"}}}}}},
 "layer":[
  {"transform":[{"filter":"!datum.k"}],"layer":[
   {"mark":"line"},
   {"mark":"point","encoding":{"size":{"condition":{"test":"datum.g==='Col-0'","value":30},"value":70}}},
   {"mark":{"type":"rule","strokeWidth":1.6},"encoding":{"y":{"field":"lo","type":"quantitative"},"y2":{"field":"hi"},"color":{"value":"#1a1a1a"}}},
   {"mark":{"type":"tick","size":7,"thickness":1.6},"encoding":{"y":{"field":"lo","type":"quantitative"},"color":{"value":"#1a1a1a"}}},
   {"mark":{"type":"tick","size":7,"thickness":1.6},"encoding":{"y":{"field":"hi","type":"quantitative"},"color":{"value":"#1a1a1a"}}}]},
  {"transform":[{"filter":"datum.k==='br'"}],"mark":{"type":"line","strokeWidth":1},"encoding":{"y":{"field":"v","type":"quantitative"},"order":{"field":"o"},"color":{"value":"#555555"}}},
  {"transform":[{"filter":"datum.k==='bl'"}],"mark":{"type":"text","fontSize":15,"baseline":"alphabetic","dy":12},"encoding":{"y":{"field":"v","type":"quantitative"},"text":{"field":"s"},"color":{"value":"#333333"}}},
  {"transform":[{"filter":"datum.k==='gn'"}],"mark":{"type":"text","fontSize":20,"fontStyle":"italic","align":"left","baseline":"top","dx":-12,"dy":0},"encoding":{"y":{"field":"v","type":"quantitative"},"text":{"field":"s"},"color":{"value":"#1a1a1a"}}}
 ]},
{"width":196,"height":191,"transform":[{"filter":"datum.p==='C4'"}],
 "encoding":{"x":{"field":"t","type":"ordinal","scale":{"type":"point","padding":0.5,"domain":["dark","30","60","120","180"]},"axis":{"title":"time [min]"}},
  "y":{"field":"m","type":"quantitative","scale":{"domain":[0,5],"nice":false},"axis":{"title":"Normalized fold change","values":[0,1,2,3,4,5]}},
  "color":{"field":"g","type":"nominal","scale":{"domain":["Col-0","cry1cry2"],"range":["#1a1a1a","#bdbdbd"]},"legend":{"title":null,"orient":"none","legendX":119,"legendY":-7,"encode":{"labels":{"fontStyle":{"condition":{"test":"datum.value==='Col-0'","value":"normal"},"value":"italic"}}}}}},
 "layer":[
  {"transform":[{"filter":"!datum.k"}],"layer":[
   {"mark":"line"},
   {"mark":"point","encoding":{"size":{"condition":{"test":"datum.g==='Col-0'","value":30},"value":70}}},
   {"mark":{"type":"rule","strokeWidth":1.6},"encoding":{"y":{"field":"lo","type":"quantitative"},"y2":{"field":"hi"},"color":{"value":"#1a1a1a"}}},
   {"mark":{"type":"tick","size":7,"thickness":1.6},"encoding":{"y":{"field":"lo","type":"quantitative"},"color":{"value":"#1a1a1a"}}},
   {"mark":{"type":"tick","size":7,"thickness":1.6},"encoding":{"y":{"field":"hi","type":"quantitative"},"color":{"value":"#1a1a1a"}}}]},
  {"transform":[{"filter":"datum.k==='br'"}],"mark":{"type":"line","strokeWidth":1},"encoding":{"y":{"field":"v","type":"quantitative"},"order":{"field":"o"},"color":{"value":"#555555"}}},
  {"transform":[{"filter":"datum.k==='bl'"}],"mark":{"type":"text","fontSize":19,"baseline":"alphabetic","dy":5},"encoding":{"y":{"field":"v","type":"quantitative"},"text":{"field":"s"},"color":{"value":"#333333"}}},
  {"transform":[{"filter":"datum.k==='gn'"}],"mark":{"type":"text","fontSize":20,"fontStyle":"italic","align":"left","baseline":"top","dx":-6,"dy":0},"encoding":{"y":{"field":"v","type":"quantitative"},"text":{"field":"s"},"color":{"value":"#1a1a1a"}}}
 ]},
{"width":196,"height":191,"transform":[{"filter":"datum.p==='A5'"}],
 "encoding":{"x":{"field":"t","type":"ordinal","scale":{"type":"point","padding":0.5,"domain":["dark","30","60","120","180"]},"axis":{"title":"time [min]"}},
  "y":{"field":"m","type":"quantitative","scale":{"domain":[0,5],"nice":false},"axis":{"title":"Normalized fold change","values":[0,1,2,3,4,5]}},
  "color":{"field":"g","type":"nominal","scale":{"domain":["Col-0","phyA phyB"],"range":["#1a1a1a","#bdbdbd"]},"legend":{"title":null,"orient":"none","legendX":107,"legendY":-2,"encode":{"labels":{"fontStyle":{"condition":{"test":"datum.value==='Col-0'","value":"normal"},"value":"italic"}}}}}},
 "layer":[
  {"transform":[{"filter":"!datum.k"}],"layer":[
   {"mark":"line"},
   {"mark":"point","encoding":{"size":{"condition":{"test":"datum.g==='Col-0'","value":30},"value":70}}},
   {"mark":{"type":"rule","strokeWidth":1.6},"encoding":{"y":{"field":"lo","type":"quantitative"},"y2":{"field":"hi"},"color":{"value":"#1a1a1a"}}},
   {"mark":{"type":"tick","size":7,"thickness":1.6},"encoding":{"y":{"field":"lo","type":"quantitative"},"color":{"value":"#1a1a1a"}}},
   {"mark":{"type":"tick","size":7,"thickness":1.6},"encoding":{"y":{"field":"hi","type":"quantitative"},"color":{"value":"#1a1a1a"}}}]},
  {"transform":[{"filter":"datum.k==='br'"}],"mark":{"type":"line","strokeWidth":1},"encoding":{"y":{"field":"v","type":"quantitative"},"order":{"field":"o"},"color":{"value":"#555555"}}},
  {"transform":[{"filter":"datum.k==='bl'"}],"mark":{"type":"text","fontSize":19,"baseline":"alphabetic","dy":19},"encoding":{"y":{"field":"v","type":"quantitative"},"text":{"field":"s"},"color":{"value":"#333333"}}},
  {"transform":[{"filter":"datum.k==='gn'"}],"mark":{"type":"text","fontSize":20,"fontStyle":"italic","align":"left","baseline":"top","dx":-10,"dy":0},"encoding":{"y":{"field":"v","type":"quantitative"},"text":{"field":"s"},"color":{"value":"#1a1a1a"}}}
 ]},
{"width":196,"height":191,"transform":[{"filter":"datum.p==='B5'"}],
 "encoding":{"x":{"field":"t","type":"ordinal","scale":{"type":"point","padding":0.5,"domain":["dark","30","60","120","180"]},"axis":{"title":"time [min]"}},
  "y":{"field":"m","type":"quantitative","scale":{"domain":[0,5],"nice":false},"axis":{"title":"Normalized fold change","values":[0,1,2,3,4,5]}},
  "color":{"field":"g","type":"nominal","scale":{"domain":["Col-0","phyA phyB"],"range":["#1a1a1a","#bdbdbd"]},"legend":{"title":null,"orient":"none","legendX":112,"legendY":-2,"encode":{"labels":{"fontStyle":{"condition":{"test":"datum.value==='Col-0'","value":"normal"},"value":"italic"}}}}}},
 "layer":[
  {"transform":[{"filter":"!datum.k"}],"layer":[
   {"mark":"line"},
   {"mark":"point","encoding":{"size":{"condition":{"test":"datum.g==='Col-0'","value":30},"value":70}}},
   {"mark":{"type":"rule","strokeWidth":1.6},"encoding":{"y":{"field":"lo","type":"quantitative"},"y2":{"field":"hi"},"color":{"value":"#1a1a1a"}}},
   {"mark":{"type":"tick","size":7,"thickness":1.6},"encoding":{"y":{"field":"lo","type":"quantitative"},"color":{"value":"#1a1a1a"}}},
   {"mark":{"type":"tick","size":7,"thickness":1.6},"encoding":{"y":{"field":"hi","type":"quantitative"},"color":{"value":"#1a1a1a"}}}]},
  {"transform":[{"filter":"datum.k==='br'"}],"mark":{"type":"line","strokeWidth":1},"encoding":{"y":{"field":"v","type":"quantitative"},"order":{"field":"o"},"color":{"value":"#555555"}}},
  {"transform":[{"filter":"datum.k==='bl'"}],"mark":{"type":"text","fontSize":19,"baseline":"alphabetic","dy":19},"encoding":{"y":{"field":"v","type":"quantitative"},"text":{"field":"s"},"color":{"value":"#333333"}}},
  {"transform":[{"filter":"datum.k==='gn'"}],"mark":{"type":"text","fontSize":20,"fontStyle":"italic","align":"left","baseline":"top","dx":-12,"dy":0},"encoding":{"y":{"field":"v","type":"quantitative"},"text":{"field":"s"},"color":{"value":"#1a1a1a"}}}
 ]},
{"width":196,"height":191,"transform":[{"filter":"datum.p==='C5'"}],
 "encoding":{"x":{"field":"t","type":"ordinal","scale":{"type":"point","padding":0.5,"domain":["dark","30","60","120","180"]},"axis":{"title":"time [min]"}},
  "y":{"field":"m","type":"quantitative","scale":{"domain":[0,5],"nice":false},"axis":{"title":"Normalized fold change","values":[0,1,2,3,4,5]}},
  "color":{"field":"g","type":"nominal","scale":{"domain":["Col-0","cry1cry2"],"range":["#1a1a1a","#bdbdbd"]},"legend":{"title":null,"orient":"none","legendX":118,"legendY":-3,"encode":{"labels":{"fontStyle":{"condition":{"test":"datum.value==='Col-0'","value":"normal"},"value":"italic"}}}}}},
 "layer":[
  {"transform":[{"filter":"!datum.k"}],"layer":[
   {"mark":"line"},
   {"mark":"point","encoding":{"size":{"condition":{"test":"datum.g==='Col-0'","value":30},"value":70}}},
   {"mark":{"type":"rule","strokeWidth":1.6},"encoding":{"y":{"field":"lo","type":"quantitative"},"y2":{"field":"hi"},"color":{"value":"#1a1a1a"}}},
   {"mark":{"type":"tick","size":7,"thickness":1.6},"encoding":{"y":{"field":"lo","type":"quantitative"},"color":{"value":"#1a1a1a"}}},
   {"mark":{"type":"tick","size":7,"thickness":1.6},"encoding":{"y":{"field":"hi","type":"quantitative"},"color":{"value":"#1a1a1a"}}}]},
  {"transform":[{"filter":"datum.k==='br'"}],"mark":{"type":"line","strokeWidth":1},"encoding":{"y":{"field":"v","type":"quantitative"},"order":{"field":"o"},"color":{"value":"#555555"}}},
  {"transform":[{"filter":"datum.k==='bl'"}],"mark":{"type":"text","fontSize":19,"baseline":"alphabetic","dy":19},"encoding":{"y":{"field":"v","type":"quantitative"},"text":{"field":"s"},"color":{"value":"#333333"}}},
  {"transform":[{"filter":"datum.k==='gn'"}],"mark":{"type":"text","fontSize":20,"fontStyle":"italic","align":"left","baseline":"top","dx":-6,"dy":0},"encoding":{"y":{"field":"v","type":"quantitative"},"text":{"field":"s"},"color":{"value":"#1a1a1a"}}}
 ]},
{"width":196,"height":191,"transform":[{"filter":"datum.p==='A6'"}],
 "encoding":{"x":{"field":"t","type":"ordinal","scale":{"type":"point","padding":0.5,"domain":["dark","30","60","120","180"]},"axis":{"title":"time [min]"}},
  "y":{"field":"m","type":"quantitative","scale":{"domain":[0,5],"nice":false},"axis":{"title":"Normalized fold change","values":[0,1,2,3,4,5]}},
  "color":{"field":"g","type":"nominal","scale":{"domain":["Col-0","phyA phyB"],"range":["#1a1a1a","#bdbdbd"]},"legend":{"title":null,"orient":"none","legendX":104,"legendY":2,"encode":{"labels":{"fontStyle":{"condition":{"test":"datum.value==='Col-0'","value":"normal"},"value":"italic"}}}}}},
 "layer":[
  {"transform":[{"filter":"!datum.k"}],"layer":[
   {"mark":"line"},
   {"mark":"point","encoding":{"size":{"condition":{"test":"datum.g==='Col-0'","value":30},"value":70}}},
   {"mark":{"type":"rule","strokeWidth":1.6},"encoding":{"y":{"field":"lo","type":"quantitative"},"y2":{"field":"hi"},"color":{"value":"#1a1a1a"}}},
   {"mark":{"type":"tick","size":7,"thickness":1.6},"encoding":{"y":{"field":"lo","type":"quantitative"},"color":{"value":"#1a1a1a"}}},
   {"mark":{"type":"tick","size":7,"thickness":1.6},"encoding":{"y":{"field":"hi","type":"quantitative"},"color":{"value":"#1a1a1a"}}}]},
  {"transform":[{"filter":"datum.k==='br'"}],"mark":{"type":"line","strokeWidth":1},"encoding":{"y":{"field":"v","type":"quantitative"},"order":{"field":"o"},"color":{"value":"#555555"}}},
  {"transform":[{"filter":"datum.k==='bl'"}],"mark":{"type":"text","fontSize":19,"baseline":"alphabetic","dy":5},"encoding":{"y":{"field":"v","type":"quantitative"},"text":{"field":"s"},"color":{"value":"#333333"}}},
  {"transform":[{"filter":"datum.k==='gn'"}],"mark":{"type":"text","fontSize":20,"fontStyle":"italic","align":"left","baseline":"top","dx":-10,"dy":3},"encoding":{"y":{"field":"v","type":"quantitative"},"text":{"field":"s"},"color":{"value":"#1a1a1a"}}}
 ]},
{"width":196,"height":191,"transform":[{"filter":"datum.p==='B6'"}],
 "encoding":{"x":{"field":"t","type":"ordinal","scale":{"type":"point","padding":0.5,"domain":["dark","30","60","120","180"]},"axis":{"title":"time [min]"}},
  "y":{"field":"m","type":"quantitative","scale":{"domain":[0,5],"nice":false},"axis":{"title":"Normalized fold change","values":[0,1,2,3,4,5]}},
  "color":{"field":"g","type":"nominal","scale":{"domain":["Col-0","phyA phyB"],"range":["#1a1a1a","#bdbdbd"]},"legend":{"title":null,"orient":"none","legendX":110,"legendY":3,"encode":{"labels":{"fontStyle":{"condition":{"test":"datum.value==='Col-0'","value":"normal"},"value":"italic"}}}}}},
 "layer":[
  {"transform":[{"filter":"!datum.k"}],"layer":[
   {"mark":"line"},
   {"mark":"point","encoding":{"size":{"condition":{"test":"datum.g==='Col-0'","value":30},"value":70}}},
   {"mark":{"type":"rule","strokeWidth":1.6},"encoding":{"y":{"field":"lo","type":"quantitative"},"y2":{"field":"hi"},"color":{"value":"#1a1a1a"}}},
   {"mark":{"type":"tick","size":7,"thickness":1.6},"encoding":{"y":{"field":"lo","type":"quantitative"},"color":{"value":"#1a1a1a"}}},
   {"mark":{"type":"tick","size":7,"thickness":1.6},"encoding":{"y":{"field":"hi","type":"quantitative"},"color":{"value":"#1a1a1a"}}}]},
  {"transform":[{"filter":"datum.k==='br'"}],"mark":{"type":"line","strokeWidth":1},"encoding":{"y":{"field":"v","type":"quantitative"},"order":{"field":"o"},"color":{"value":"#555555"}}},
  {"transform":[{"filter":"datum.k==='bl'"}],"mark":{"type":"text","fontSize":19,"baseline":"alphabetic","dy":17},"encoding":{"y":{"field":"v","type":"quantitative"},"text":{"field":"s"},"color":{"value":"#333333"}}},
  {"transform":[{"filter":"datum.k==='gn'"}],"mark":{"type":"text","fontSize":20,"fontStyle":"italic","align":"left","baseline":"top","dx":-12,"dy":3},"encoding":{"y":{"field":"v","type":"quantitative"},"text":{"field":"s"},"color":{"value":"#1a1a1a"}}}
 ]},
{"width":196,"height":191,"transform":[{"filter":"datum.p==='C6'"}],
 "encoding":{"x":{"field":"t","type":"ordinal","scale":{"type":"point","padding":0.5,"domain":["dark","30","60","120","180"]},"axis":{"title":"time [min]"}},
  "y":{"field":"m","type":"quantitative","scale":{"domain":[0,5],"nice":false},"axis":{"title":"Normalized fold change","values":[0,1,2,3,4,5]}},
  "color":{"field":"g","type":"nominal","scale":{"domain":["Col-0","cry1cry2"],"range":["#1a1a1a","#bdbdbd"]},"legend":{"title":null,"orient":"none","legendX":118,"legendY":2,"encode":{"labels":{"fontStyle":{"condition":{"test":"datum.value==='Col-0'","value":"normal"},"value":"italic"}}}}}},
 "layer":[
  {"transform":[{"filter":"!datum.k"}],"layer":[
   {"mark":"line"},
   {"mark":"point","encoding":{"size":{"condition":{"test":"datum.g==='Col-0'","value":30},"value":70}}},
   {"mark":{"type":"rule","strokeWidth":1.6},"encoding":{"y":{"field":"lo","type":"quantitative"},"y2":{"field":"hi"},"color":{"value":"#1a1a1a"}}},
   {"mark":{"type":"tick","size":7,"thickness":1.6},"encoding":{"y":{"field":"lo","type":"quantitative"},"color":{"value":"#1a1a1a"}}},
   {"mark":{"type":"tick","size":7,"thickness":1.6},"encoding":{"y":{"field":"hi","type":"quantitative"},"color":{"value":"#1a1a1a"}}}]},
  {"transform":[{"filter":"datum.k==='br'"}],"mark":{"type":"line","strokeWidth":1},"encoding":{"y":{"field":"v","type":"quantitative"},"order":{"field":"o"},"color":{"value":"#555555"}}},
  {"transform":[{"filter":"datum.k==='bl'"}],"mark":{"type":"text","fontSize":19,"baseline":"alphabetic","dy":5},"encoding":{"y":{"field":"v","type":"quantitative"},"text":{"field":"s"},"color":{"value":"#333333"}}},
  {"transform":[{"filter":"datum.k==='gn'"}],"mark":{"type":"text","fontSize":20,"fontStyle":"italic","align":"left","baseline":"top","dx":-6,"dy":3},"encoding":{"y":{"field":"v","type":"quantitative"},"text":{"field":"s"},"color":{"value":"#1a1a1a"}}}
 ]}
],
"config":{
 "font":"Liberation Sans",
 "view":{"stroke":null},
 "axis":{"grid":false,"domainColor":"#1a1a1a","domainWidth":1.6,"tickColor":"#1a1a1a","tickWidth":1.5,"labelColor":"#1a1a1a","labelFont":"Liberation Sans","labelFontSize":20,"titleFont":"Liberation Sans","titleFontSize":19.5,"titleFontWeight":"normal","titleColor":"#1a1a1a"},
 "axisX":{"labelAngle":-45,"ticks":false,"labelPadding":3,"labelFontSize":19,"titleX":117,"titleY":45,"titleBaseline":"top"},
 "axisY":{"tickSize":3,"labelPadding":3,"minExtent":35,"maxExtent":35,"titlePadding":4},
 "legend":{"padding":0,"labelFontSize":14,"labelColor":"#1a1a1a","labelFont":"Liberation Sans","symbolType":"M-3,0L3,0M-0.5,0A0.5,0.5,0,1,1,0.5,0A0.5,0.5,0,1,1,-0.5,0Z","symbolSize":100,"symbolStrokeWidth":2,"labelOffset":15,"rowPadding":4,"symbolOpacity":1},
 "line":{"strokeWidth":2},
 "point":{"filled":true,"opacity":1}
}
}
